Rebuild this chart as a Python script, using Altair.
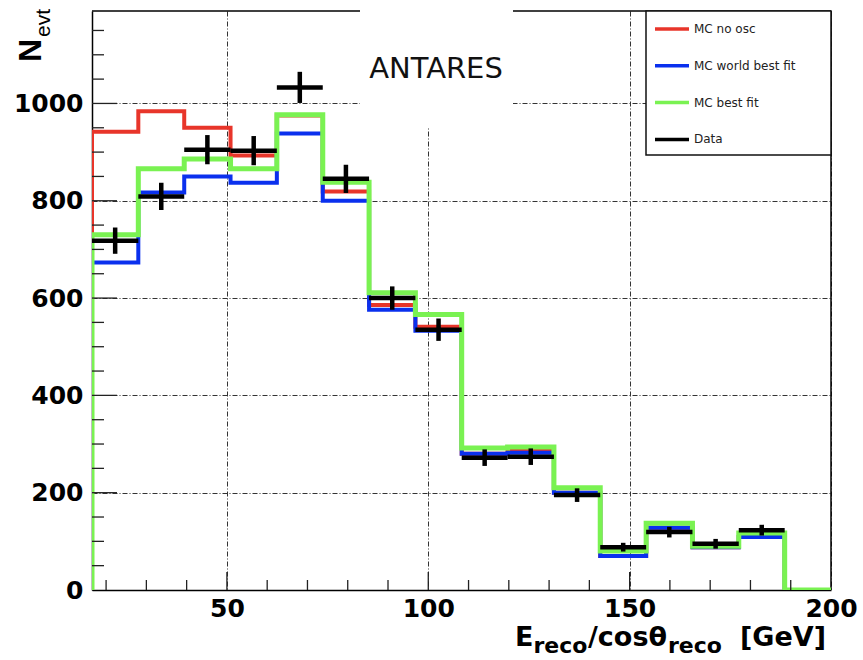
import altair as alt
import pandas as pd

# ---- data ----
edges = [16.5, 28.0, 39.4, 50.9, 62.4, 73.8, 85.3, 96.8, 108.3, 119.7,
         131.2, 142.7, 154.1, 165.6, 177.1, 188.5, 200.0]
mc_no_osc = [942, 984, 950, 893, 975, 819, 586, 541, 280, 288, 200, 70, 128, 88, 109, 0]
mc_world = [673, 817, 850, 837, 938, 800, 576, 533, 280, 282, 200, 70, 128, 88, 109, 0]
mc_best = [730, 866, 886, 866, 977, 838, 611, 566, 292, 294, 210, 80, 137, 90, 117, 0]
data_vals = [718, 809, 905, 903, 1033, 845, 600, 535, 272, 274, 195, 88, 119, 95, 123]
data_err = [27, 28, 30, 30, 32, 29, 24, 23, 17, 17, 14, 9, 11, 10, 11]

series_names = ["MC no osc", "MC world best fit", "MC best fit", "Data"]
series_colors = ["#e8352a", "#0a30ee", "#7af252", "#000000"]

x_labels = [50, 100, 150, 200]
y_labels = [0, 200, 400, 600, 800, 1000]
x_minor = [v for v in range(20, 200, 10) if v % 50 != 0]
y_minor = [v for v in range(50, 1200, 50) if v % 200 != 0]
y_major = [200, 400, 600, 800, 1000]
x_major = [50, 100, 150]

W, H = 739, 579
XDOM = [16.5, 200]
YDOM = [0, 1190]

xs = alt.Scale(domain=XDOM, nice=False, zero=False)
ys = alt.Scale(domain=YDOM, nice=False, zero=False)
cs = alt.Scale(domain=series_names, range=series_colors)


def hist_df(vals, name):
    rows = [{"x": edges[0], "y": 0, "o": 0, "s": name}]
    k = 1
    for i, v in enumerate(vals):
        rows.append({"x": edges[i], "y": v, "o": k, "s": name}); k += 1
        rows.append({"x": edges[i + 1], "y": v, "o": k, "s": name}); k += 1
    return pd.DataFrame(rows)


legend = alt.Legend(title=None, orient="none", legendX=561, legendY=-1,
                    symbolType="stroke", symbolSize=1156, symbolStrokeWidth=3.5,
                    rowPadding=10.8, labelOffset=3, padding=0,
                    labelFont="DejaVu Sans", labelFontSize=12, labelColor="#222222",
                    labelLimit=300)

x_axis = alt.Axis(values=x_labels, grid=True, gridDash=[5, 2, 1, 2], gridColor="#333333",
                  gridWidth=1, tickSize=0, labelPadding=6, labelFont="DejaVu Sans",
                  labelFontWeight="bold", labelFontSize=25, labelColor="#000000",
                  domainColor="#000000", domainWidth=1.5, title=None, labelFlush=False,
                  format="d")
y_axis = alt.Axis(values=y_labels, grid=True, gridDash=[5, 2, 1, 2], gridColor="#333333",
                  gridWidth=1, tickSize=0, labelPadding=9, labelFont="DejaVu Sans",
                  labelFontWeight="bold", labelFontSize=25, labelColor="#000000",
                  domainColor="#000000", domainWidth=1.5, title=None, format="d")

base_df = pd.DataFrame({"x": [XDOM[0], XDOM[1]], "y": [YDOM[0], YDOM[1]]})
axes_layer = alt.Chart(base_df).mark_point(opacity=0).encode(
    x=alt.X("x:Q", scale=xs, axis=x_axis),
    y=alt.Y("y:Q", scale=ys, axis=y_axis),
)

one = pd.DataFrame({"a": [0]})
frame_top = alt.Chart(one).mark_rule(color="#000000", strokeWidth=1.5).encode(
    x=alt.value(0), x2=alt.value(W), y=alt.value(0))
frame_right = alt.Chart(one).mark_rule(color="#000000", strokeWidth=1.5).encode(
    x=alt.value(W), y=alt.value(0), y2=alt.value(H))

title_box = alt.Chart(one).mark_rect(color="white").encode(
    x=alt.value(268), x2=alt.value(421), y=alt.value(-8), y2=alt.value(116))
antares = alt.Chart(one).mark_text(text="ANTARES", font="DejaVu Sans", fontSize=29,
                                   align="center", baseline="alphabetic", color="#111111").encode(
    x=alt.value(344), y=alt.value(66.5))

legend_box = alt.Chart(one).mark_rect(fill="white", stroke="#111111", strokeWidth=1.5).encode(
    x=alt.value(554), x2=alt.value(W), y=alt.value(0), y2=alt.value(144))

widths = {"MC no osc": 4, "MC world best fit": 4, "MC best fit": 5}
hist_layers = []
for vals, name in [(mc_no_osc, "MC no osc"), (mc_world, "MC world best fit"), (mc_best, "MC best fit")]:
    hist_layers.append(
        alt.Chart(hist_df(vals, name)).mark_line(strokeWidth=widths[name], strokeJoin="miter",
                                                 strokeCap="square", clip=True).encode(
            x=alt.X("x:Q", scale=xs),
            y=alt.Y("y:Q", scale=ys),
            order="o:Q",
            color=alt.Color("s:N", scale=cs, legend=legend),
        )
    )

ddf = pd.DataFrame({
    "lo": edges[:len(data_vals)],
    "hi": edges[1:len(data_vals) + 1],
    "c": [(edges[i] + edges[i + 1]) / 2 for i in range(len(data_vals))],
    "v": data_vals,
    "vlo": [v - e for v, e in zip(data_vals, data_err)],
    "vhi": [v + e for v, e in zip(data_vals, data_err)],
    "s": ["Data"] * len(data_vals),
})
data_h = alt.Chart(ddf).mark_rule(strokeWidth=4.5).encode(
    x=alt.X("lo:Q", scale=xs), x2="hi:Q", y=alt.Y("v:Q", scale=ys),
    color=alt.Color("s:N", scale=cs, legend=legend))
data_v = alt.Chart(ddf).mark_rule(strokeWidth=4.5).encode(
    x=alt.X("c:Q", scale=xs), y=alt.Y("vlo:Q", scale=ys), y2="vhi:Q",
    color=alt.Color("s:N", scale=cs, legend=legend))

tick_color = "#222222"
xmin_df = pd.DataFrame({"t": x_minor})
xmaj_df = pd.DataFrame({"t": x_major})
ymin_df = pd.DataFrame({"t": y_minor})
ymaj_df = pd.DataFrame({"t": y_major})
xt_minor = alt.Chart(xmin_df).mark_rule(color=tick_color, strokeWidth=1.3).encode(
    x=alt.X("t:Q", scale=xs), y=alt.value(H), y2=alt.value(H - 10))
xt_major = alt.Chart(xmaj_df).mark_rule(color=tick_color, strokeWidth=1.3).encode(
    x=alt.X("t:Q", scale=xs), y=alt.value(H), y2=alt.value(H - 18))
yt_minor = alt.Chart(ymin_df).mark_rule(color=tick_color, strokeWidth=1.3).encode(
    y=alt.Y("t:Q", scale=ys), x=alt.value(0), x2=alt.value(12))
yt_major = alt.Chart(ymaj_df).mark_rule(color=tick_color, strokeWidth=1.3).encode(
    y=alt.Y("t:Q", scale=ys), x=alt.value(0), x2=alt.value(25))


def txt(t, x, y, size, weight="bold", angle=0, font="DejaVu Sans"):
    kw = dict(text=t, font=font, fontSize=size, fontWeight=weight, align="left",
              baseline="alphabetic", color="#000000")
    if angle:
        kw["angle"] = angle
    return alt.Chart(one).mark_text(**kw).encode(x=alt.value(x), y=alt.value(y))


xtitle = [
    txt("E", 423, 635, 27),
    txt("reco", 441.5, 642, 22),
    txt("/cosθ", 496, 635, 27),
    txt("reco", 576, 642, 22),
    txt("[GeV]", 648, 635, 27),
]
ytitle = [
    txt("N", -51, 51, 32, angle=270, font="Liberation Sans"),
    txt("evt", -42, 26, 21, weight="normal", angle=270, font="Liberation Sans"),
]

chart = alt.layer(
    axes_layer, frame_top, frame_right, title_box, antares, legend_box,
    *hist_layers, data_h, data_v,
    xt_minor, xt_major, yt_minor, yt_major,
    *xtitle, *ytitle,
).properties(
    width=W, height=H,
    autosize=alt.AutoSizeParams(type="none"),
    padding={"left": 92, "top": 11, "right": 32, "bottom": 70},
    background="white",
).configure_view(strokeWidth=0)

chart.save("out.html", embed_options={"renderer": "svg", "actions": False})
